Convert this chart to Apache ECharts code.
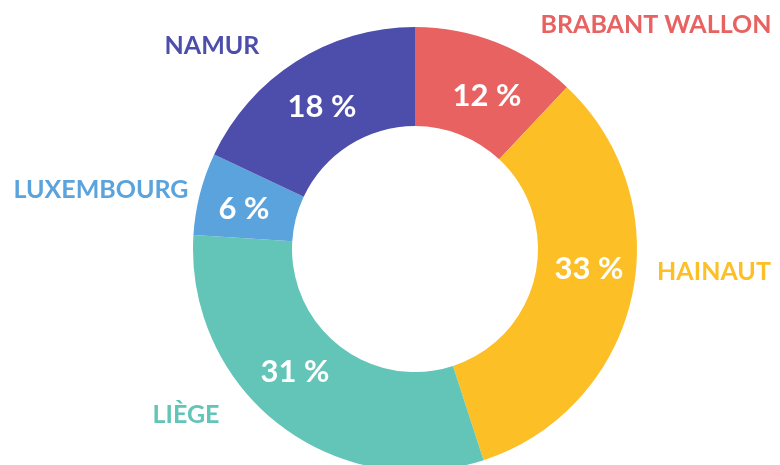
<!DOCTYPE html>
<html>
<head>
<meta charset="utf-8">
<script src="https://cdn.jsdelivr.net/npm/echarts@6/dist/echarts.min.js"></script>
<style>
    html, body { margin: 0; padding: 0; background: #fff; }
    #chart { width: 780px; height: 465px; }
</style>
</head>
<body>
<div id="chart"></div>
<script>
// provinces, clockwise from the top
var provinces = ['BRABANT WALLON', 'HAINAUT', 'LIÈGE', 'LUXEMBOURG', 'NAMUR'];
var shares = [12, 33, 31, 6, 18]; // %
var colors = ['#E86262', '#FDBF26', '#63C5B8', '#5AA3DC', '#4D4EAB'];

// where the labels sit (centre of the text)
var namePos = [[656, 25], [714, 272], [186, 415], [101, 190], [212, 46]];
var pctPos = [[487, 96], [589, 269], [295, 372], [244, 209], [322, 107]];

var myChart = echarts.init(document.getElementById('chart'));

var data = [];
for (var i = 0; i < provinces.length; i++) {
    data.push({ name: provinces[i], value: shares[i], itemStyle: { color: colors[i] } });
}

var option = {
    animation: false,
    series: [{
        type: 'pie',
        center: [415, 249],
        radius: [123, 222],
        startAngle: 90,
        clockwise: true,
        avoidLabelOverlap: false,
        silent: true,
        data: data,
        label: {
            show: true,
            position: 'inside',
            formatter: '{c} %',
            color: '#fff',
            fontFamily: 'Lato',
            fontWeight: 'bold',
            fontSize: 31
        },
        labelLine: { show: false },
        labelLayout: function (params) {
            var p = pctPos[params.dataIndex];
            return { x: p[0], y: p[1], align: 'center', verticalAlign: 'middle' };
        }
    }, {
        // second pass, only for the province names
        type: 'pie',
        center: [415, 249],
        radius: [123, 222],
        startAngle: 90,
        clockwise: true,
        avoidLabelOverlap: false,
        silent: true,
        data: provinces.map(function (n, i) {
            return { name: n, value: shares[i], itemStyle: { color: 'rgba(0,0,0,0)' }, label: { color: colors[i] } };
        }),
        label: {
            show: true,
            position: 'outside',
            formatter: '{b}',
            fontFamily: 'Lato',
            fontWeight: 'bold',
            fontSize: 25
        },
        labelLine: { show: false },
        labelLayout: function (params) {
            var p = namePos[params.dataIndex];
            return { x: p[0], y: p[1], align: 'center', verticalAlign: 'middle' };
        }
    }]
};

myChart.setOption(option);
</script>
</body>
</html>
